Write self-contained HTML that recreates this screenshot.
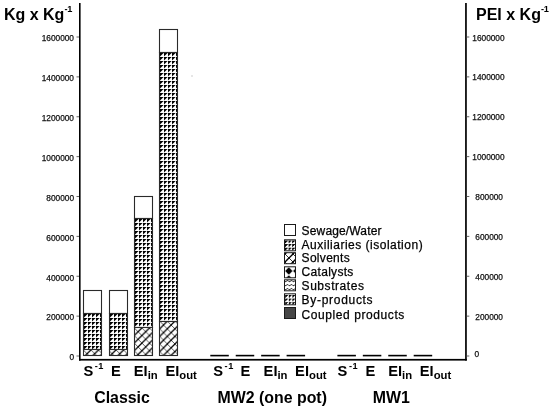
<!DOCTYPE html>
<html><head><meta charset="utf-8"><style>
html,body{margin:0;padding:0;background:#fff;}
svg{display:block;filter:blur(0.3px);}
text{font-family:"Liberation Sans", Arial, sans-serif;fill:#000;}
.tk{font-size:8.3px;fill:#111;stroke:#111;stroke-width:0.25px;}
.ttl{font-size:16px;font-weight:bold;}
.sup{font-size:9.2px;font-weight:bold;}
.sup2{font-size:9.2px;font-weight:bold;}
.sub{font-size:11.3px;font-weight:bold;}
.cat{font-size:14.7px;font-weight:bold;}
.grp{font-size:15.9px;font-weight:bold;}
.lg{font-size:12px;stroke:#000;stroke-width:0.25px;}
</style></head><body>
<svg width="550" height="408" viewBox="0 0 550 408">

<defs>
 <pattern id="tri" x="285" y="240.5" width="3.6" height="3.6" patternUnits="userSpaceOnUse">
  <rect width="4" height="4" fill="#fff"/>
  <path d="M0,0 H2.8 V0.9 H1.9 V1.8 H0.9 V2.7 H0 Z" fill="#000"/>
 </pattern>
 <pattern id="tri2" x="285.2" y="295" width="3.6" height="3.6" patternUnits="userSpaceOnUse">
  <rect width="4" height="4" fill="#fff"/>
  <path d="M0,0 H2.6 V0.9 H1.7 V1.8 H0.9 V2.6 H0 Z" fill="#000"/>
 </pattern>
 <pattern id="xhl" x="285" y="254" width="8" height="8" patternUnits="userSpaceOnUse">
  <rect width="8" height="8" fill="#fff"/>
  <path d="M-1,9 L9,-1 M-1,1 L1,-1 M7,9 L9,7" stroke="#000" stroke-width="1.4"/>
  <path d="M-1,-1 L9,9 M-1,7 L1,9 M7,-1 L9,1" stroke="#000" stroke-width="0.8"/>
 </pattern>
 <pattern id="dia" x="284.8" y="267" width="8" height="8" patternUnits="userSpaceOnUse">
  <rect width="8" height="8" fill="#fff"/>
  <polygon points="4,0.3 7.7,4 4,7.7 0.3,4" fill="#000"/>
 </pattern>
 <pattern id="wave" x="284" y="279" width="4" height="4" patternUnits="userSpaceOnUse">
  <rect width="4" height="4" fill="#fff"/>
  <path d="M0,1.5 Q1,3.5 2,2.5 T4,1.5" stroke="#000" stroke-width="0.8" fill="none"/>
 </pattern>
</defs>

<rect x="79" y="3" width="1.6" height="357.6" fill="#000"/>
<rect x="465.1" y="3" width="1.7" height="357.6" fill="#000"/>
<rect x="79" y="358.9" width="387.8" height="1.7" fill="#000"/>
<rect x="76.5" y="355.50" width="2.5" height="1" fill="#666"/>
<rect x="466.8" y="355.50" width="2.5" height="1" fill="#666"/>
<text x="74" y="360.30" text-anchor="end" class="tk">0</text>
<text x="474.5" y="356.90" class="tk">0</text>
<rect x="76.5" y="315.62" width="2.5" height="1" fill="#666"/>
<rect x="466.8" y="315.62" width="2.5" height="1" fill="#666"/>
<text x="74" y="320.43" text-anchor="end" class="tk">200000</text>
<text x="475.3" y="319.73" class="tk">200000</text>
<rect x="76.5" y="275.75" width="2.5" height="1" fill="#666"/>
<rect x="466.8" y="275.75" width="2.5" height="1" fill="#666"/>
<text x="74" y="280.55" text-anchor="end" class="tk">400000</text>
<text x="475.3" y="279.85" class="tk">400000</text>
<rect x="76.5" y="235.88" width="2.5" height="1" fill="#666"/>
<rect x="466.8" y="235.88" width="2.5" height="1" fill="#666"/>
<text x="74" y="240.68" text-anchor="end" class="tk">600000</text>
<text x="475.3" y="239.97" class="tk">600000</text>
<rect x="76.5" y="196.00" width="2.5" height="1" fill="#666"/>
<rect x="466.8" y="196.00" width="2.5" height="1" fill="#666"/>
<text x="74" y="200.80" text-anchor="end" class="tk">800000</text>
<text x="475.3" y="200.10" class="tk">800000</text>
<rect x="76.5" y="156.12" width="2.5" height="1" fill="#666"/>
<rect x="466.8" y="156.12" width="2.5" height="1" fill="#666"/>
<text x="74" y="160.93" text-anchor="end" class="tk">1000000</text>
<text x="472.3" y="160.22" class="tk">1000000</text>
<rect x="76.5" y="116.25" width="2.5" height="1" fill="#666"/>
<rect x="466.8" y="116.25" width="2.5" height="1" fill="#666"/>
<text x="74" y="121.05" text-anchor="end" class="tk">1200000</text>
<text x="472.3" y="120.35" class="tk">1200000</text>
<rect x="76.5" y="76.38" width="2.5" height="1" fill="#666"/>
<rect x="466.8" y="76.38" width="2.5" height="1" fill="#666"/>
<text x="74" y="81.17" text-anchor="end" class="tk">1400000</text>
<text x="472.3" y="80.47" class="tk">1400000</text>
<rect x="76.5" y="36.50" width="2.5" height="1" fill="#666"/>
<rect x="466.8" y="36.50" width="2.5" height="1" fill="#666"/>
<text x="74" y="41.30" text-anchor="end" class="tk">1600000</text>
<text x="472.3" y="40.60" class="tk">1600000</text>
<rect x="83.5" y="290.5" width="18" height="23" fill="#fff" stroke="#2a2a2a" stroke-width="1.1"/>
<rect x="83.5" y="313.5" width="18" height="36" fill="url(#tri_1)" stroke="#2a2a2a" stroke-width="1.1"/>
<rect x="83.5" y="349.5" width="18" height="6" fill="url(#xh_1)" stroke="#2a2a2a" stroke-width="1.1"/>
<rect x="109.5" y="290.5" width="18" height="23" fill="#fff" stroke="#2a2a2a" stroke-width="1.1"/>
<rect x="109.5" y="313.5" width="18" height="36" fill="url(#tri_2)" stroke="#2a2a2a" stroke-width="1.1"/>
<rect x="109.5" y="349.5" width="18" height="6" fill="url(#xh_2)" stroke="#2a2a2a" stroke-width="1.1"/>
<rect x="134.5" y="196.5" width="18" height="22" fill="#fff" stroke="#2a2a2a" stroke-width="1.1"/>
<rect x="134.5" y="218.5" width="18" height="109" fill="url(#tri_3)" stroke="#2a2a2a" stroke-width="1.1"/>
<rect x="134.5" y="327.5" width="18" height="28" fill="url(#xh_3)" stroke="#2a2a2a" stroke-width="1.1"/>
<rect x="159.5" y="29.5" width="18" height="23" fill="#fff" stroke="#2a2a2a" stroke-width="1.1"/>
<rect x="159.5" y="52.5" width="18" height="269" fill="url(#tri_4)" stroke="#2a2a2a" stroke-width="1.1"/>
<rect x="159.5" y="321.5" width="18" height="34" fill="url(#xh_4)" stroke="#2a2a2a" stroke-width="1.1"/>
<defs><pattern id="tri_1" x="84" y="314" width="4" height="4" patternUnits="userSpaceOnUse"><rect width="4" height="4" fill="#fff"/><polygon points="0,0 3.6,0 0,3.6" fill="#000"/></pattern><pattern id="xh_1" x="87.1" y="353.7" width="7.6" height="7.6" patternUnits="userSpaceOnUse"><rect width="7.6" height="7.6" fill="#fff"/><path d="M-1,8.6 L8.6,-1 M-1,1 L1,-1 M6.6,8.6 L8.6,6.6" stroke="#000" stroke-width="1.3"/><path d="M-1,-1 L8.6,8.6 M-1,6.6 L1,8.6 M6.6,-1 L8.6,1" stroke="#000" stroke-width="0.65"/></pattern><pattern id="tri_2" x="110" y="314" width="4" height="4" patternUnits="userSpaceOnUse"><rect width="4" height="4" fill="#fff"/><polygon points="0,0 3.6,0 0,3.6" fill="#000"/></pattern><pattern id="xh_2" x="112.2" y="353.7" width="7.6" height="7.6" patternUnits="userSpaceOnUse"><rect width="7.6" height="7.6" fill="#fff"/><path d="M-1,8.6 L8.6,-1 M-1,1 L1,-1 M6.6,8.6 L8.6,6.6" stroke="#000" stroke-width="1.3"/><path d="M-1,-1 L8.6,8.6 M-1,6.6 L1,8.6 M6.6,-1 L8.6,1" stroke="#000" stroke-width="0.65"/></pattern><pattern id="tri_3" x="135" y="219" width="4" height="4" patternUnits="userSpaceOnUse"><rect width="4" height="4" fill="#fff"/><polygon points="0,0 3.6,0 0,3.6" fill="#000"/></pattern><pattern id="xh_3" x="141.9" y="343.1" width="7.6" height="7.6" patternUnits="userSpaceOnUse"><rect width="7.6" height="7.6" fill="#fff"/><path d="M-1,8.6 L8.6,-1 M-1,1 L1,-1 M6.6,8.6 L8.6,6.6" stroke="#000" stroke-width="1.3"/><path d="M-1,-1 L8.6,8.6 M-1,6.6 L1,8.6 M6.6,-1 L8.6,1" stroke="#000" stroke-width="0.65"/></pattern><pattern id="tri_4" x="160" y="53" width="4" height="4" patternUnits="userSpaceOnUse"><rect width="4" height="4" fill="#fff"/><polygon points="0,0 3.6,0 0,3.6" fill="#000"/></pattern><pattern id="xh_4" x="167.3" y="336.4" width="7.6" height="7.6" patternUnits="userSpaceOnUse"><rect width="7.6" height="7.6" fill="#fff"/><path d="M-1,8.6 L8.6,-1 M-1,1 L1,-1 M6.6,8.6 L8.6,6.6" stroke="#000" stroke-width="1.3"/><path d="M-1,-1 L8.6,8.6 M-1,6.6 L1,8.6 M6.6,-1 L8.6,1" stroke="#000" stroke-width="0.65"/></pattern></defs>
<rect x="210.30" y="354.8" width="18.5" height="1.6" fill="#000"/>
<rect x="235.73" y="354.8" width="18.5" height="1.6" fill="#000"/>
<rect x="261.16" y="354.8" width="18.5" height="1.6" fill="#000"/>
<rect x="286.59" y="354.8" width="18.5" height="1.6" fill="#000"/>
<rect x="337.40" y="354.8" width="18.5" height="1.6" fill="#000"/>
<rect x="362.83" y="354.8" width="18.5" height="1.6" fill="#000"/>
<rect x="388.26" y="354.8" width="18.5" height="1.6" fill="#000"/>
<rect x="413.69" y="354.8" width="18.5" height="1.6" fill="#000"/>
<circle cx="192" cy="76" r="0.7" fill="#bbb"/>
<text x="3.9" y="19.7" class="ttl">Kg x Kg<tspan class="sup" dx="0.2" dy="-7.7">-</tspan><tspan class="sup" dx="-0.3">1</tspan></text>
<text x="476.0" y="19.6" class="ttl">PEI x Kg<tspan class="sup" dx="0.2" dy="-7.7">-</tspan><tspan class="sup" dx="-0.3">1</tspan></text>
<text x="83.5" y="376.4" class="cat">S<tspan class="sup2" dx="1.5" dy="-7.1">-</tspan><tspan class="sup2" dx="0.5">1</tspan></text>
<text x="110.9" y="376.4" class="cat">E</text>
<text x="133.8" y="376.4" class="cat">EI<tspan class="sub" dy="3">in</tspan></text>
<text x="165.4" y="376.4" class="cat">EI<tspan class="sub" dy="3">out</tspan></text>
<text x="213.3" y="376.4" class="cat">S<tspan class="sup2" dx="1.5" dy="-7.1">-</tspan><tspan class="sup2" dx="0.5">1</tspan></text>
<text x="240.4" y="376.4" class="cat">E</text>
<text x="263.6" y="376.4" class="cat">EI<tspan class="sub" dy="3">in</tspan></text>
<text x="295.1" y="376.4" class="cat">EI<tspan class="sub" dy="3">out</tspan></text>
<text x="337.6" y="376.4" class="cat">S<tspan class="sup2" dx="1.5" dy="-7.1">-</tspan><tspan class="sup2" dx="0.5">1</tspan></text>
<text x="365.4" y="376.4" class="cat">E</text>
<text x="388.2" y="376.4" class="cat">EI<tspan class="sub" dy="3">in</tspan></text>
<text x="419.8" y="376.4" class="cat">EI<tspan class="sub" dy="3">out</tspan></text>
<text x="94.2" y="403.2" class="grp">Classic</text>
<text x="217.5" y="403.2" class="grp">MW2 (one pot)</text>
<text x="372.8" y="403.2" class="grp">MW1</text>
<rect x="284.5" y="224.5" width="11" height="11" fill="#fff" stroke="#1a1a1a" stroke-width="1"/>
<text x="301.6" y="235.2" class="lg" letter-spacing="0.15">Sewage/Water</text>
<rect x="284.5" y="239.8" width="11" height="11" fill="url(#tri)" stroke="#1a1a1a" stroke-width="1"/>
<text x="301.6" y="249.1" class="lg" letter-spacing="0.5">Auxiliaries (isolation)</text>
<rect x="284.5" y="252.7" width="11" height="11" fill="url(#xhl)" stroke="#1a1a1a" stroke-width="1"/>
<text x="301.6" y="262.1" class="lg" letter-spacing="0.3">Solvents</text>
<rect x="284.5" y="266.8" width="11" height="11" fill="url(#dia)" stroke="#1a1a1a" stroke-width="1"/>
<text x="301.6" y="276.2" class="lg" letter-spacing="0.3">Catalysts</text>
<rect x="284.5" y="279.8" width="11" height="11" fill="url(#wave)" stroke="#1a1a1a" stroke-width="1"/>
<text x="301.6" y="290.0" class="lg" letter-spacing="0.55">Substrates</text>
<rect x="284.5" y="293.8" width="11" height="11" fill="url(#tri2)" stroke="#1a1a1a" stroke-width="1"/>
<text x="301.6" y="304.3" class="lg" letter-spacing="0.7">By-products</text>
<rect x="284.5" y="307.5" width="11" height="11" fill="#464646" stroke="#1a1a1a" stroke-width="1"/>
<text x="301.6" y="318.5" class="lg" letter-spacing="0.58">Coupled products</text>
</svg>
</body></html>
